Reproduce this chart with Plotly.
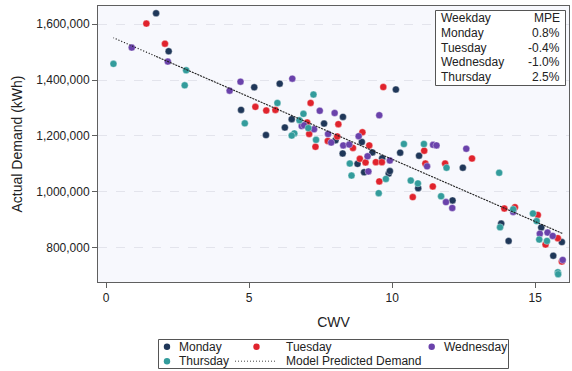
import numpy as np
import plotly.graph_objects as go

# ---- data -----------------------------------------------------------------
weekdays = ["Monday", "Tuesday", "Wednesday", "Thursday"]
mpe_labels = ["0.8%", "-0.4%", "-1.0%", "2.5%"]

monday_cwv = [1.75, 2.19, 5.18, 4.72, 6.07, 5.59, 6.25, 6.49, 8.28, 7.62,
              8.02, 8.27, 8.94, 8.79, 9.02, 9.31, 9.65, 9.88, 9.92, 10.13,
              10.28, 10.94, 10.91, 12.47, 12.11, 13.81, 14.07, 15.21, 15.93, 15.63]
monday_demand = [1639000, 1503000, 1374000, 1293000, 1387000, 1203000, 1230000, 1260000, 1268000, 1244000,
                 1184000, 1137000, 1178000, 1100000, 1070000, 1141000, 1120000, 1065000, 1074000, 1366000,
                 1140000, 1129000, 1013000, 1086000, 969000, 886000, 824000, 872000, 820000, 771000]

tuesday_cwv = [1.41, 2.06, 5.22, 5.60, 5.92, 7.15, 8.12, 7.03, 7.10, 7.32,
               8.08, 7.75, 8.63, 8.96, 9.20, 8.87, 9.07, 9.43, 9.64, 9.55,
               9.69, 11.12, 11.16, 11.85, 12.79, 11.42, 10.72, 13.92, 14.29, 15.09,
               15.79, 15.36, 15.93]
tuesday_demand = [1602000, 1530000, 1304000, 1291000, 1293000, 1318000, 1242000, 1248000, 1207000, 1161000,
                  1198000, 1182000, 1157000, 1213000, 1166000, 1118000, 1105000, 1106000, 1106000, 1037000,
                  1375000, 1147000, 1101000, 1101000, 1119000, 1019000, 981000, 940000, 945000, 917000,
                  834000, 811000, 750000]

wednesday_cwv = [0.90, 2.16, 4.32, 4.70, 6.51, 7.47, 7.99, 6.84, 6.92, 7.27,
                 7.76, 7.87, 8.29, 8.50, 8.83, 9.14, 9.17, 9.92, 9.55, 11.43,
                 11.55, 11.22, 12.59, 11.88, 12.10, 14.23, 15.16, 15.43, 15.61, 15.96]
wednesday_demand = [1516000, 1466000, 1362000, 1394000, 1405000, 1290000, 1282000, 1235000, 1238000, 1224000,
                    1207000, 1176000, 1166000, 1169000, 1199000, 1127000, 1073000, 1112000, 1274000, 1168000,
                    1166000, 1091000, 1154000, 963000, 942000, 928000, 850000, 854000, 842000, 756000]

thursday_cwv = [0.26, 2.80, 2.75, 4.85, 5.99, 6.58, 6.49, 6.76, 7.25, 6.90,
                7.07, 7.34, 8.52, 8.58, 9.78, 9.53, 10.41, 11.11, 11.90, 10.65,
                10.90, 11.71, 13.74, 13.77, 14.23, 14.92, 15.05, 15.14, 15.41, 15.79,
                15.80]
thursday_demand = [1458000, 1435000, 1381000, 1245000, 1318000, 1209000, 1201000, 1256000, 1348000, 1279000,
                   1228000, 1186000, 1101000, 1058000, 1046000, 995000, 1171000, 1171000, 1086000, 1040000,
                   1030000, 984000, 1068000, 873000, 937000, 922000, 895000, 829000, 824000, 712000,
                   705000]

# fitted demand model: demand = intercept + slope * CWV
model_intercept = 1562700
model_slope = -44630

x_ticks = [0, 5, 10, 15]
y_ticks = [800000, 1000000, 1200000, 1400000, 1600000]

# ---- styling ----------------------------------------------------------------
FONT = "Liberation Sans, Arial, sans-serif"
TEXT = "#222222"
FRAME = "#5f5f5f"
day_colors = {"Monday": "#1f3759", "Tuesday": "#e0232d",
              "Wednesday": "#6a42ab", "Thursday": "#339c9c"}
MODEL_DASH = "1px,2px"

W, H = 572, 371
PL, PR, PT, PB = 98, 569, 6, 282        # plot-area edges in page pixels


def px(x):
    return (x - PL) / (PR - PL)


def py(y):
    return (PB - y) / (PB - PT)


series = {
    "Monday": (monday_cwv, monday_demand),
    "Tuesday": (tuesday_cwv, tuesday_demand),
    "Wednesday": (wednesday_cwv, wednesday_demand),
    "Thursday": (thursday_cwv, thursday_demand),
}

fig = go.Figure()

for day in weekdays:
    cwv, dem = series[day]
    fig.add_trace(go.Scatter(
        x=cwv, y=dem, mode="markers", name=day, showlegend=False,
        marker=dict(size=7, color=day_colors[day], line=dict(width=0.6, color="rgba(255,255,255,0.6)")),
    ))

# model prediction for each observation, joined in observation order: the path
# runs back and forth along the fitted line, so its dots overlap into a solid
# stroke through the busy middle while the sparse ends stay dotted
obs_cwv = np.array(monday_cwv + tuesday_cwv + wednesday_cwv + thursday_cwv)
pred = model_intercept + model_slope * obs_cwv
fig.add_trace(go.Scatter(
    x=obs_cwv, y=pred, mode="lines", name="Model Predicted Demand",
    showlegend=False, hoverinfo="skip",
    line=dict(color="#222222", width=1.1, dash=MODEL_DASH),
))

shapes = []
annotations = []

# MPE inset table
shapes.append(dict(type="rect", xref="paper", yref="paper", layer="above",
                   x0=px(435.5), x1=px(565.5), y0=py(85.5), y1=py(10.5),
                   line=dict(color="#555555", width=1), fillcolor="white"))
rows = [("Weekday", "MPE")] + list(zip(weekdays, mpe_labels))
row_y = [18.3, 33.1, 47.9, 62.4, 77.0]
for (left, right), ry in zip(rows, row_y):
    annotations.append(dict(text=left, x=px(439), y=py(ry), xref="paper", yref="paper",
                            xanchor="left", yanchor="middle", showarrow=False,
                            font=dict(family=FONT, size=12, color=TEXT)))
    annotations.append(dict(text=right, x=px(561.5), y=py(ry), xref="paper", yref="paper",
                            xanchor="right", yanchor="middle", showarrow=False,
                            font=dict(family=FONT, size=12, color=TEXT)))

# legend box below the x axis
shapes.append(dict(type="rect", xref="paper", yref="paper", layer="above",
                   x0=px(158.5), x1=px(508.5), y0=py(368.5), y1=py(339.5),
                   line=dict(color="#555555", width=1), fillcolor="white"))
legend_items = [
    ("Monday", 167, 177, 346.7),
    ("Tuesday", 256.5, 284, 346.7),
    ("Wednesday", 431.7, 441.5, 346.7),
    ("Thursday", 167, 177, 361.2),
]
for name, mx, tx, ly in legend_items:
    shapes.append(dict(type="circle", xref="paper", yref="paper", layer="above",
                       xsizemode="pixel", ysizemode="pixel",
                       xanchor=px(mx), yanchor=py(ly), x0=-3.2, x1=3.2, y0=-3.2, y1=3.2,
                       fillcolor=day_colors[name], line=dict(width=0)))
    annotations.append(dict(text=name, x=px(tx), y=py(ly), xref="paper", yref="paper",
                            xanchor="left", yanchor="middle", showarrow=False,
                            font=dict(family=FONT, size=12, color=TEXT)))
shapes.append(dict(type="line", xref="paper", yref="paper", layer="above",
                   x0=px(235), x1=px(277), y0=py(361.2), y1=py(361.2),
                   line=dict(color="#444444", width=1, dash=MODEL_DASH)))
annotations.append(dict(text="Model Predicted Demand", x=px(284), y=py(361.2),
                        xref="paper", yref="paper", xanchor="left", yanchor="middle",
                        showarrow=False, font=dict(family=FONT, size=12, color=TEXT)))

axis_common = dict(
    showline=True, linecolor=FRAME, linewidth=1, mirror=True,
    ticks="outside", ticklen=5, tickcolor=FRAME, tickwidth=1,
    tickfont=dict(family=FONT, size=12, color=TEXT),
    zeroline=False,
)

fig.update_layout(
    width=W, height=H,
    margin=dict(l=PL, r=W - PR, t=PT, b=H - PB, autoexpand=False),
    paper_bgcolor="white", plot_bgcolor="#f7f8fd",
    font=dict(family=FONT, size=12, color=TEXT),
    xaxis=dict(axis_common, range=[-0.28, 16.18], tickvals=x_ticks, showgrid=False,
               title=dict(text="CWV", font=dict(family=FONT, size=14, color=TEXT), standoff=12)),
    yaxis=dict(axis_common, range=[677000, 1665000], tickvals=y_ticks, tickformat=",d",
               showgrid=True, gridcolor="#e3e4ec", gridwidth=1, griddash="dash",
               title=dict(text="Actual Demand (kWh)", font=dict(family=FONT, size=14, color=TEXT), standoff=10)),
    shapes=shapes, annotations=annotations,
    showlegend=False,
)

fig.write_html("out.html")
